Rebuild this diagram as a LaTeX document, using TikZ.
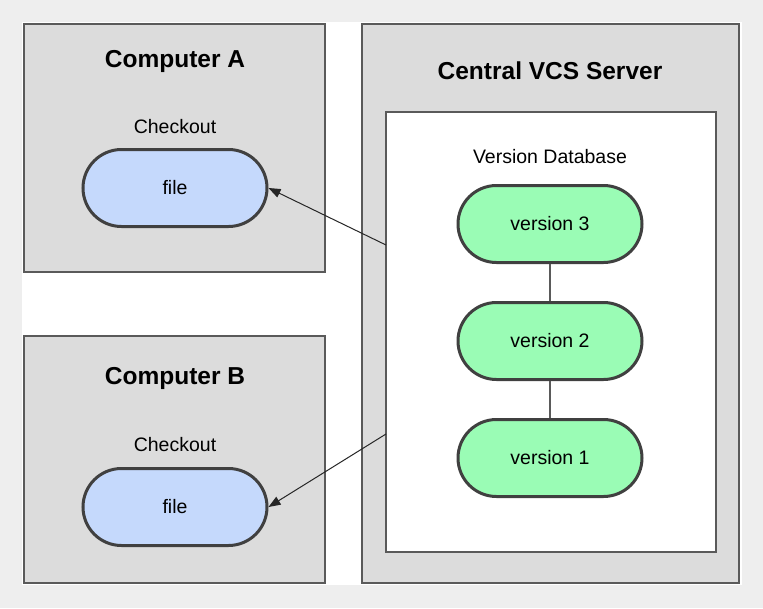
\documentclass[tikz,border=0pt]{standalone}
\usepackage{fontspec}
\setmainfont{Liberation Sans}
\usetikzlibrary{shapes.misc,arrows.meta,calc}
\definecolor{bgout}{HTML}{EEEEEE}
\definecolor{boxfill}{HTML}{DCDCDC}
\definecolor{boxline}{HTML}{5A5A5A}
\definecolor{pillline}{HTML}{404040}
\definecolor{bluefill}{HTML}{C5D9FC}
\definecolor{greenfill}{HTML}{9AFCB5}
\tikzset{
  panel/.style={draw=boxline, line width=1.3pt, fill=boxfill},
  dbpanel/.style={draw=boxline, line width=1.3pt, fill=white},
  pill/.style={rounded rectangle, draw=pillline, line width=3pt, minimum width=184pt, minimum height=77pt, inner sep=0pt, font=\fontsize{19.5}{23}\selectfont},
  filepill/.style={pill, fill=bluefill},
  verpill/.style={pill, fill=greenfill},
  titletext/.style={font=\fontsize{24.5}{28}\selectfont\bfseries, inner sep=0pt},
  labeltext/.style={font=\fontsize{19.5}{23}\selectfont, inner sep=0pt},
  link/.style={draw=boxline, line width=1.3pt},
  fetch/.style={draw=black!85, line width=1pt, -{Triangle[length=12pt,width=9pt]}}
}
\begin{document}
\begin{tikzpicture}[x=1pt,y=-1pt]
\fill[bgout] (0,0) rectangle (763,608);
\useasboundingbox (0,0) rectangle (763,608);
\fill[white] (22,22) rectangle (742,585);
% panels
\draw[panel] (24,24) rectangle (325,272);
\draw[panel] (24,336) rectangle (325,583);
\draw[panel] (362,24) rectangle (739,583);
\draw[dbpanel] (386,112) rectangle (716,552);
% titles
\node[titletext] (ta) at (175,61) {Computer A};
\node[titletext] (tb) at (175,378) {Computer B};
\node[titletext] (ts) at (550,71) {Central VCS Server};
\node[labeltext] (ca) at (175,127) {Checkout};
\node[labeltext] (cb) at (175,445) {Checkout};
\node[labeltext] (vd) at (550,157) {Version Database};
% pills
\node[filepill] (fa) at (175,188) {\raisebox{-1pt}{file}};
\node[filepill] (fb) at (175,507) {\raisebox{-1pt}{file}};
\node[verpill] (v3) at (550,224) {\raisebox{-1pt}{version 3}};
\node[verpill] (v2) at (550,341) {\raisebox{-1pt}{version 2}};
\node[verpill] (v1) at (550,458) {\raisebox{-1pt}{version 1}};
\draw[link] (v3) -- (v2);
\draw[link] (v2) -- (v1);
% arrows
\coordinate (sa) at (386,245);
\coordinate (sb) at (386,434);
\draw[fetch] (sa) -- (fa.east);
\draw[fetch] (sb) -- (fb.east);
\end{tikzpicture}
\end{document}
